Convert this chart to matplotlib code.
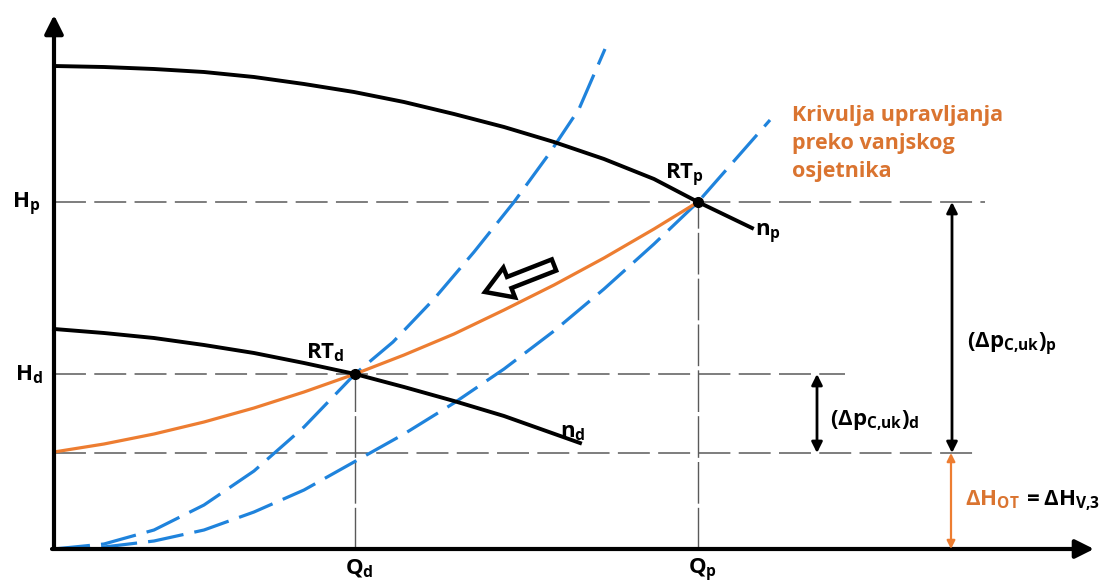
import matplotlib.pyplot as plt
from matplotlib.patches import FancyArrow

plt.rcParams['font.family'] = ['Open Sans', 'DejaVu Sans']
plt.rcParams['font.weight'] = 'bold'
plt.rcParams['mathtext.fontset'] = 'custom'
plt.rcParams['mathtext.rm'] = 'Open Sans:bold'
plt.rcParams['mathtext.it'] = 'Open Sans:bold'
plt.rcParams['mathtext.bf'] = 'Open Sans:bold'
plt.rcParams['lines.scale_dashes'] = False

# radne točke (protok Q, visina H) u relativnim jedinicama sheme
Q_d, H_d = 301, 175
Q_p, H_p = 644, 347
H_ot = 96

# karakteristika pumpe pri n_p
np_Q = [0, 50, 100, 150, 200, 250, 300, 350, 400, 450, 500, 550, 600, 644, 698]
np_H = [483, 482, 480, 477, 472, 465, 457, 447, 435, 422, 407, 390, 370, 347, 321]

# karakteristika pumpe pri n_d
nd_Q = [0, 50, 100, 150, 200, 250, 301, 350, 400, 450, 526]
nd_H = [220, 216, 211, 204, 196, 186, 175, 162, 148, 133, 106]

# krivulja upravljanja (narančasta)
kr_Q = [0, 50, 100, 150, 200, 250, 301, 350, 400, 450, 500, 550, 600, 644]
kr_H = [97, 105, 115, 127, 141, 157, 175, 194, 215, 239, 264, 291, 320, 347]

# krivulje sustava (plave, isprekidane)
s1_Q = [0, 50, 100, 150, 200, 250, 301, 339, 380, 420, 460, 495, 525, 551]
s1_H = [0, 5, 19, 44, 78, 122, 175, 207, 250, 297, 347, 395, 440, 500]
s2_Q = [0, 50, 100, 150, 200, 250, 300, 350, 400, 450, 500, 550, 600, 644, 716]
s2_H = [0, 2, 8, 19, 37, 59, 87, 115, 146, 180, 218, 260, 305, 347, 429]

black = 'black'
orange = '#ED7D31'
orange_txt = '#DA7430'
blue = '#1F83DC'
gray = '#5a5a5a'

fig = plt.figure(figsize=(11.08, 5.83), dpi=100)
ax = fig.add_axes([0, 0, 1, 1])
ax.set_xlim(-54, 1054)
ax.set_ylim(-34, 549)
ax.axis('off')

# pomoćne isprekidane linije
dash = dict(color=gray, lw=1.1, dashes=(23, 6))
ax.plot([0, 931], [H_p, H_p], **dash)
ax.plot([0, 791], [H_d, H_d], **dash)
ax.plot([0, 923], [H_ot, H_ot], **dash)
vdash = dict(color=gray, lw=1.0, dashes=(30, 3))
ax.plot([Q_d, Q_d], [0, H_d], **vdash)
ax.plot([Q_p, Q_p], [0, H_p], **vdash)

# krivulje
ax.plot(s1_Q, s1_H, color=blue, lw=2.3, dashes=(26, 8), solid_capstyle='round')
ax.plot(s2_Q, s2_H, color=blue, lw=2.3, dashes=(26, 8), solid_capstyle='round')
ax.plot(kr_Q, kr_H, color=orange, lw=2.3)
ax.plot(np_Q, np_H, color=black, lw=2.8)
ax.plot(nd_Q, nd_H, color=black, lw=2.8)
ax.plot([Q_d, Q_p], [H_d, H_p], 'o', color=black, ms=7)

# osi
ax.annotate('', xy=(0, 534), xytext=(0, 0),
            arrowprops=dict(arrowstyle='-|>', lw=3, color=black, mutation_scale=28,
                            shrinkA=0, shrinkB=0))
ax.annotate('', xy=(1040, 0), xytext=(-2, 0),
            arrowprops=dict(arrowstyle='-|>', lw=3, color=black, mutation_scale=28,
                            shrinkA=0, shrinkB=0))

# strelice razlika tlaka
ax.annotate('', xy=(898, H_p), xytext=(898, H_ot),
            arrowprops=dict(arrowstyle='<|-|>', lw=2, color=black, mutation_scale=16,
                            shrinkA=0, shrinkB=0))
ax.annotate('', xy=(763, H_d), xytext=(763, H_ot),
            arrowprops=dict(arrowstyle='<|-|>', lw=2, color=black, mutation_scale=16,
                            shrinkA=0, shrinkB=0))
ax.annotate('', xy=(897, H_ot), xytext=(897, 0),
            arrowprops=dict(arrowstyle='<|-|>', lw=1.6, color=orange, mutation_scale=12,
                            shrinkA=0, shrinkB=0))

# šuplja strelica
ax.add_patch(FancyArrow(500, 284, -69, -27, width=12, head_width=32, head_length=26,
                        length_includes_head=True, fc='white', ec=black, lw=3.2, zorder=5))

fs = 16
ax.text(-42, 341, r'$H_p$', fontsize=fs, ha='left', va='baseline')
ax.text(-39, 169, r'$H_d$', fontsize=fs, ha='left', va='baseline')
ax.text(291, -25, r'$Q_d$', fontsize=fs, ha='left', va='baseline')
ax.text(634, -25, r'$Q_p$', fontsize=fs, ha='left', va='baseline')
ax.text(252, 191, r'$RT_d$', fontsize=fs, ha='left', va='baseline')
ax.text(611, 370, r'$RT_p$', fontsize=fs, ha='left', va='baseline')
ax.text(701, 313, r'$n_p$', fontsize=fs, ha='left', va='baseline')
ax.text(506, 112, r'$n_d$', fontsize=fs, ha='left', va='baseline')
ax.text(913, 201, r'$(\Delta p_{C{,}uk})_p$', fontsize=fs, ha='left', va='baseline')
ax.text(776, 124, r'$(\Delta p_{C{,}uk})_d$', fontsize=fs, ha='left', va='baseline')
ax.text(911, 44, r'$\Delta H_{OT}$', fontsize=fs, color=orange_txt, ha='left', va='baseline')
ax.text(968, 44, r'$= \Delta H_{V{,}3}$', fontsize=fs, ha='left', va='baseline')

opis = ['Krivulja upravljanja', 'preko vanjskog', 'osjetnika']
for i, red in enumerate(opis):
    ax.text(738, 428 - 28 * i, red, fontsize=15.5, color=orange_txt, fontweight='bold',
            ha='left', va='baseline')

fig.savefig('out.png', dpi=100)
